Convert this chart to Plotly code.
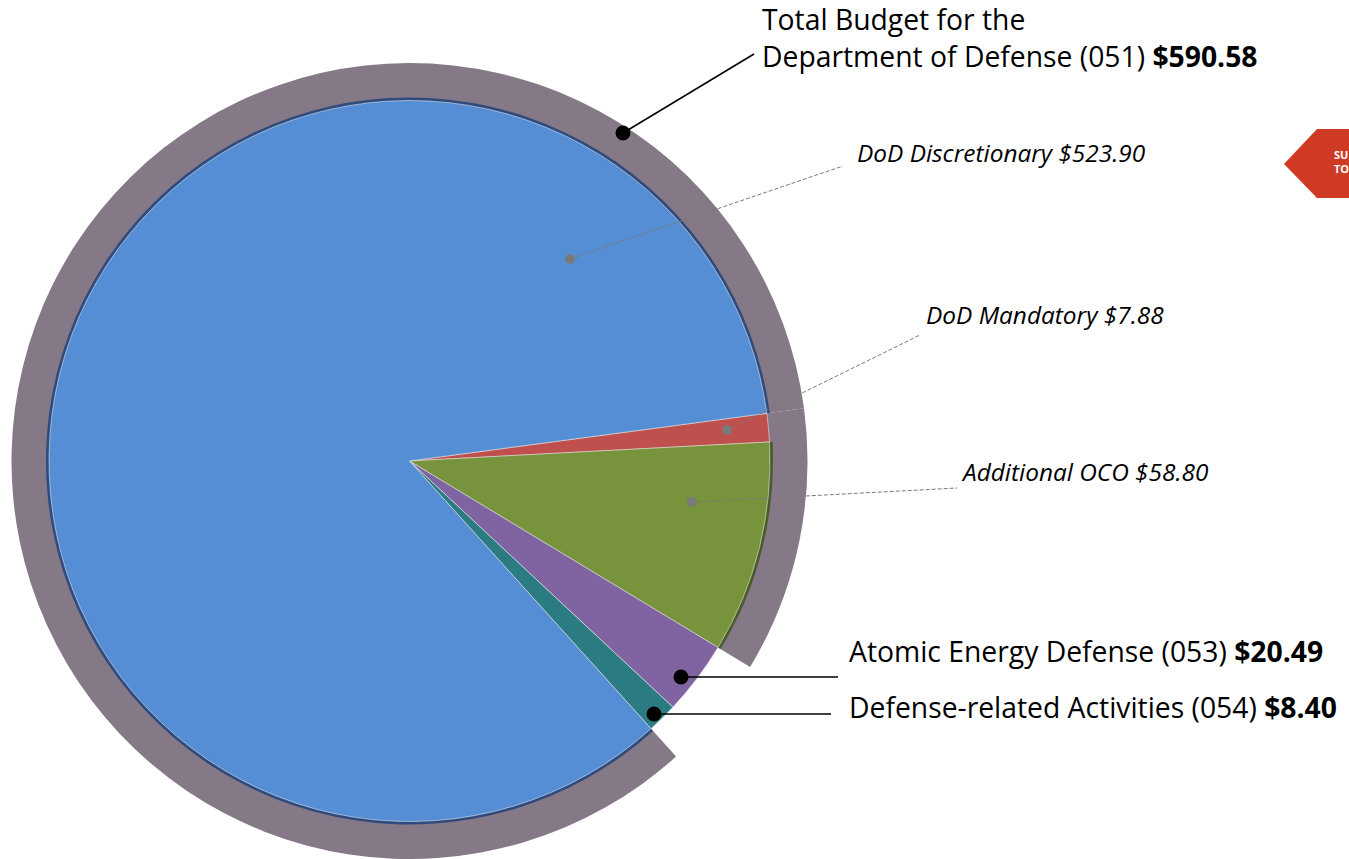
import plotly.graph_objects as go

W, H = 1349, 859

# ---- data ----
categories = ["DoD Mandatory", "Additional OCO", "Atomic Energy Defense (053)",
              "Defense-related Activities (054)", "DoD Discretionary"]
values = [7.88, 58.80, 20.49, 8.40, 523.90]
total_051 = 590.58
label_texts = {
    "total": "Total Budget for the<br>Department of Defense (051) <b>$590.58</b>",
    "disc": "<i>DoD Discretionary $523.90</i>",
    "mand": "<i>DoD Mandatory $7.88</i>",
    "oco": "<i>Additional OCO $58.80</i>",
    "atomic": "Atomic Energy Defense (053) <b>$20.49</b>",
    "defrel": "Defense-related Activities (054) <b>$8.40</b>",
    "btn": "<b>SU<br>TO</b>",
}

# ---- style ----
slice_colors = ["#C0504D", "#77933C", "#8064A2", "#2B7B83", "#558ED5"]
ring_color = "#857887"
CLEAR = "rgba(0,0,0,0)"
CX, CY = 409.5, 461.0       # pie centre in pixels (from top-left)
R_MAIN, R_EDGE, R_RING = 360.5, 363.5, 398.0
ROT = 82.4                  # clockwise degrees from 12 o'clock
FONT = "Open Sans, sans-serif"


def dom(r):
    return dict(x=[(CX - r) / W, (CX + r) / W],
                y=[(H - CY - r) / H, (H - CY + r) / H])


def px(x):
    return x / W


def py(y):
    return 1 - y / H


mand, oco, atomic, defrel, disc = values
ring_values = [mand + oco, atomic + defrel, disc]

fig = go.Figure()

# outer ring for function 051
fig.add_trace(go.Pie(values=ring_values, sort=False, direction="clockwise",
                     rotation=ROT, domain=dom(R_RING),
                     marker=dict(colors=[ring_color, CLEAR, ring_color],
                                 line=dict(width=0)),
                     textinfo="none", hoverinfo="skip", showlegend=False))
# dark edge (shadow) beneath main slices
fig.add_trace(go.Pie(values=values, sort=False, direction="clockwise",
                     rotation=ROT, domain=dom(R_EDGE),
                     marker=dict(colors=[CLEAR, "#4A5A2A", CLEAR, CLEAR, "#2F4B7E"],
                                 line=dict(width=0)),
                     textinfo="none", hoverinfo="skip", showlegend=False))
# main pie
fig.add_trace(go.Pie(labels=categories, values=values, sort=False,
                     direction="clockwise", rotation=ROT, domain=dom(R_MAIN),
                     marker=dict(colors=slice_colors,
                                 line=dict(color="rgba(235,235,235,0.7)", width=0.8)),
                     textinfo="none", hoverinfo="label+value", showlegend=False))

shapes = []
annotations = []


def leader(x0, y0, x1, y1, color, dash, width, dot_r):
    shapes.append(dict(type="line", xref="paper", yref="paper",
                       x0=px(x0), y0=py(y0), x1=px(x1), y1=py(y1),
                       line=dict(color=color, width=width, dash=dash)))
    shapes.append(dict(type="circle", xref="paper", yref="paper",
                       x0=px(x0 - dot_r), x1=px(x0 + dot_r),
                       y0=py(y0 + dot_r), y1=py(y0 - dot_r),
                       fillcolor=color, line=dict(width=0)))


leader(623, 133, 754, 54, "#000000", "solid", 1.5, 7.5)
leader(570, 259, 843, 166, "#7A7A7A", "4px,2px", 1, 5)
leader(727, 430, 920, 335, "#7A7A7A", "4px,2px", 1, 5)
leader(692, 502, 957, 488, "#7A7A7A", "4px,2px", 1, 5)
leader(681, 677, 838, 677, "#000000", "solid", 1.5, 7.5)
leader(654, 714, 831, 714, "#000000", "solid", 1.5, 7.5)


def label(key, x, y, size, color="#000000"):
    annotations.append(dict(text=label_texts[key], x=px(x), y=py(y),
                            xref="paper", yref="paper", xanchor="left",
                            yanchor="middle", align="left", showarrow=False,
                            font=dict(family=FONT, size=size, color=color)))


label("total", 760, 37, 28.3)
label("disc", 855, 152, 24.4)
label("mand", 924, 314, 24.4)
label("oco", 959, 471, 24.4)
label("atomic", 847, 651, 28.3)
label("defrel", 847, 707, 28.3)

# partially visible red button at right edge
shapes.append(dict(type="path", xref="paper", yref="paper",
                   path=f"M {px(1284)},{py(164)} L {px(1317)},{py(129)} L {px(1360)},{py(129)} "
                        f"L {px(1360)},{py(198)} L {px(1317)},{py(198)} Z",
                   fillcolor="#CF3A25", line=dict(width=0)))
label("btn", 1332, 162, 11, "#FFFFFF")

fig.update_layout(width=W, height=H, margin=dict(l=0, r=0, t=0, b=0),
                  paper_bgcolor="white", plot_bgcolor="white",
                  shapes=shapes, annotations=annotations, showlegend=False)

fig.write_html("out.html", config={"displayModeBar": False},
               post_script="document.body.style.margin='0';document.body.style.overflow='hidden';")
